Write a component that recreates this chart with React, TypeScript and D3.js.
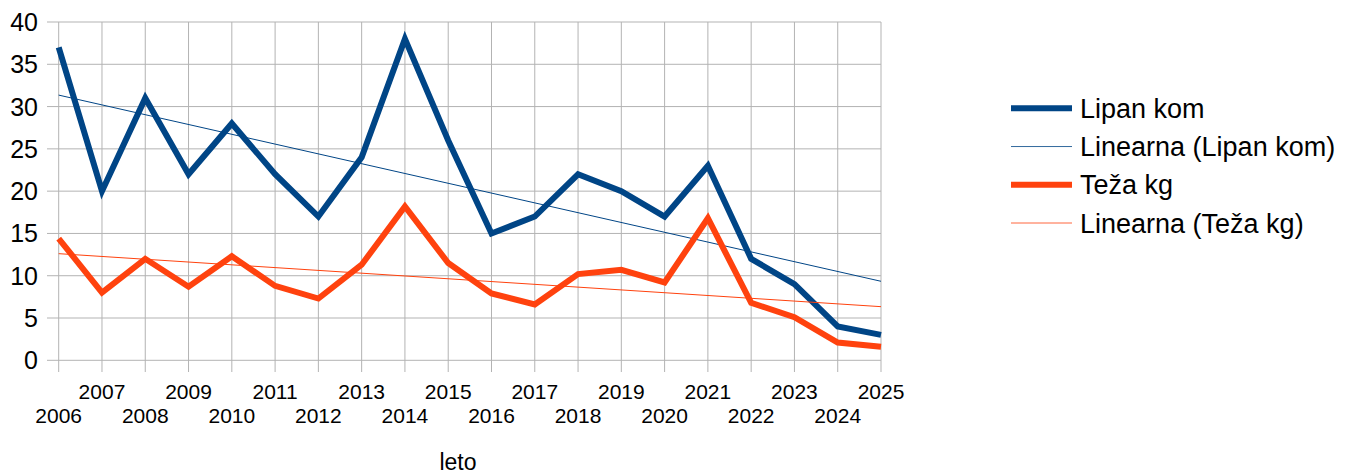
import * as d3 from 'd3';

const years = [2006, 2007, 2008, 2009, 2010, 2011, 2012, 2013, 2014, 2015, 2016, 2017, 2018, 2019, 2020, 2021, 2022, 2023, 2024, 2025];
const lipanKom = [37, 20, 31, 22, 28, 22, 17, 24, 38, 26, 15, 17, 22, 20, 17, 23, 12, 9, 4, 3];
const tezaKg = [14.4, 8, 12, 8.7, 12.3, 8.8, 7.3, 11.3, 18.2, 11.5, 7.9, 6.6, 10.2, 10.7, 9.2, 16.8, 6.8, 5.1, 2.1, 1.6];
const yTicks = [0, 5, 10, 15, 20, 25, 30, 35, 40];
const legendLabels = ['Lipan kom', 'Linearna (Lipan kom)', 'Teža kg', 'Linearna (Teža kg)'];

const BLUE = '#004586';
const ORANGE = '#ff420e';
const GRID = '#b3b3b3';
const FONT = '"Liberation Sans", Arial, sans-serif';

const W = 1352;
const H = 475;

// least squares fit, returns [start, end] values at first/last year
function trend(values: number[]): [number, number] {
  const xm = d3.mean(years) as number;
  const ym = d3.mean(values) as number;
  let num = 0;
  let den = 0;
  years.forEach((x, i) => {
    num += (x - xm) * (values[i] - ym);
    den += (x - xm) * (x - xm);
  });
  const b = num / den;
  const a = ym - b * xm;
  return [a + b * years[0], a + b * years[years.length - 1]];
}

export default function App(): JSX.Element {
  const x = d3.scaleLinear().domain([2006, 2025]).range([58.7, 881]);
  const y = d3.scaleLinear().domain([0, 40]).range([360.3, 22]);

  const line = d3
    .line<number>()
    .x((_, i) => x(years[i]))
    .y((d) => y(d));

  const series = [
    { values: lipanKom, color: BLUE },
    { values: tezaKg, color: ORANGE },
  ];

  const legendY = d3.scaleLinear().domain([0, 3]).range([108.3, 223]);

  return (
    <svg
      width={W}
      height={H}
      viewBox={`0 0 ${W} ${H}`}
      style={{ position: 'absolute', left: 0, top: 0, background: '#fff', fontFamily: FONT }}
    >
      {/* horizontal grid */}
      {yTicks.map((t) => (
        <line key={`h${t}`} x1={47} x2={881} y1={y(t)} y2={y(t)} stroke={GRID} strokeWidth={1} />
      ))}
      {/* vertical grid */}
      {years.map((yr) => (
        <line key={`v${yr}`} x1={x(yr)} x2={x(yr)} y1={y(40)} y2={372} stroke={GRID} strokeWidth={1} />
      ))}

      {yTicks.map((t) => (
        <text key={`yl${t}`} x={38} y={y(t)} dy="0.36em" textAnchor="end" fontSize={25} fill="#000">
          {t}
        </text>
      ))}

      {years.map((yr, i) => (
        <text
          key={`xl${yr}`}
          x={x(yr)}
          y={i % 2 === 0 ? 423 : 399}
          textAnchor="middle"
          fontSize={21}
          fill="#000"
        >
          {yr}
        </text>
      ))}

      <text x={458} y={470} textAnchor="middle" fontSize={23} fill="#000">
        leto
      </text>

      {series.map((s, k) => {
        const [t0, t1] = trend(s.values);
        return (
          <g key={`s${k}`}>
            <path d={line(s.values) ?? ''} fill="none" stroke={s.color} strokeWidth={6} strokeLinejoin="miter" />
            <line
              x1={x(years[0])}
              x2={x(years[years.length - 1])}
              y1={y(t0)}
              y2={y(t1)}
              stroke={s.color}
              strokeWidth={1}
            />
          </g>
        );
      })}

      {legendLabels.map((lab, i) => {
        const color = i < 2 ? BLUE : ORANGE;
        const thick = i % 2 === 0;
        return (
          <g key={lab}>
            <line
              x1={1011}
              x2={1072}
              y1={legendY(i)}
              y2={legendY(i)}
              stroke={color}
              strokeWidth={thick ? 6 : 1}
              opacity={thick ? 1 : 0.8}
            />
            <text x={1080} y={legendY(i)} dy="0.36em" fontSize={27} fill="#000">
              {lab}
            </text>
          </g>
        );
      })}
    </svg>
  );
}
